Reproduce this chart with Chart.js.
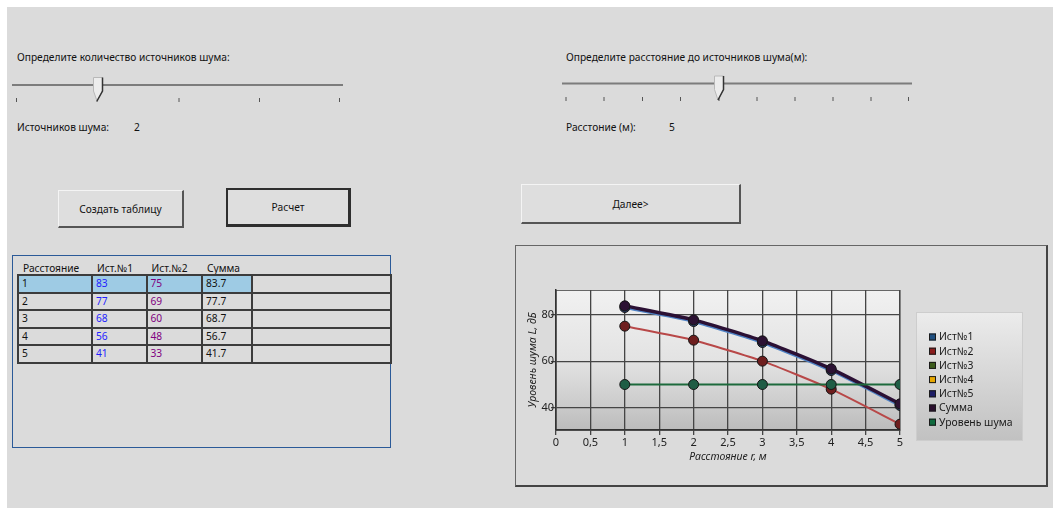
<!DOCTYPE html>
<html>
<head>
<meta charset="utf-8">
<script src="https://cdn.jsdelivr.net/npm/chart.js"></script>
<style>
  html, body { margin: 0; padding: 0; background: #fff; }
  body { width: 1053px; height: 508px; position: relative; overflow: hidden; font-family: "Noto Sans", sans-serif; font-size: 10.2px; color: #111; }
  #form { position: absolute; left: 7px; top: 7px; width: 1046px; height: 501px; background: #dbdbdb; }
  .abs { position: absolute; white-space: nowrap; }
  .lbl { line-height: 14px; }
  .btn { position: absolute; box-sizing: border-box; background: #dedede; display: flex; align-items: center; justify-content: center; }
  .raised { border-top: 1px solid #f4f4f4; border-left: 1px solid #f4f4f4; border-right: 2px solid #555; border-bottom: 2px solid #555; }
  .focused { border: 2px solid #2e2e2e; border-right-width: 3px; border-bottom-width: 3px; }
  #grid { position: absolute; left: 12px; top: 255px; width: 377px; height: 191px; border: 1px solid #2b5a98; }
  .cell { position: absolute; box-sizing: border-box; border: 2px solid #3c3c3c; padding-left: 3px; line-height: 14px; }
  #panel { position: absolute; left: 515px; top: 245px; width: 530px; height: 239px; border: 1px solid #666; border-right: 2px solid #444; border-bottom: 2px solid #444; background: #dbdbdb; }
  #chart { position: absolute; left: 516px; top: 246px; }
</style>
</head>
<body>
<div id="form"></div>

<div class="abs lbl" style="left:17px; top:50px;">Определите количество источников шума:</div>
<div class="abs lbl" style="left:566px; top:50px;">Определите расстояние до источников шума(м):</div>

<svg class="abs" style="left:0; top:0;" width="1053" height="120" id="sliders"></svg>

<div class="abs lbl" style="left:17px; top:120px;">Источников шума:</div>
<div class="abs lbl" style="left:134px; top:120px;" id="srcCount"></div>
<div class="abs lbl" style="left:566px; top:120px;">Расстоние (м):</div>
<div class="abs lbl" style="left:669px; top:120px;" id="distValue"></div>

<div class="btn raised" style="left:58px; top:190px; width:126px; height:38px;">Создать таблицу</div>
<div class="btn focused" style="left:226px; top:188px; width:125px; height:39px;">Расчет</div>
<div class="btn raised" style="left:521px; top:184px; width:220px; height:40px;">Далее&gt;</div>

<div id="grid"></div>
<div id="panel"></div>
<canvas id="chart" width="530" height="239"></canvas>

<script>
// --- data ---
const distances = [1, 2, 3, 4, 5]
const source1 = [83, 77, 68, 56, 41]
const source2 = [75, 69, 60, 48, 33]
const source3 = []
const source4 = []
const source5 = []
const totalLevel = [83.7, 77.7, 68.7, 56.7, 41.7]
const noiseLimit = [50, 50, 50, 50, 50]
const seriesNames = ['Ист№1', 'Ист№2', 'Ист№3', 'Ист№4', 'Ист№5', 'Сумма', 'Уровень шума']
const xTicks = [0, 0.5, 1, 1.5, 2, 2.5, 3, 3.5, 4, 4.5, 5]
const yTicks = [40, 60, 80]
const tableHeaders = ['Расстояние', 'Ист.№1', 'Ист.№2', 'Сумма']
const sourceCount = 2
const selectedDistance = 5

document.getElementById('srcCount').textContent = sourceCount
document.getElementById('distValue').textContent = selectedDistance

// --- track bars ---
function trackBar(svg, x1, x2, y, ticks, thumbX, thumbTop, tipY) {
	let s = '<line x1="' + x1 + '" y1="' + y + '" x2="' + x2 + '" y2="' + y + '" stroke="#7c7c7c" stroke-width="2"/>'
	ticks.forEach(t => {
		s += '<line x1="' + t + '" y1="' + (tipY - 2) + '" x2="' + t + '" y2="' + (tipY + 2) + '" stroke="#555" stroke-width="1"/>'
	})
	const l = thumbX - 4.5, r = thumbX + 4.5, b = thumbTop + 13.5
	s += '<path d="M' + l + ',' + thumbTop + ' L' + r + ',' + thumbTop + ' L' + r + ',' + b + ' L' + (thumbX - 1) + ',' + (tipY + 1) + ' L' + l + ',' + b + ' Z" fill="#ececec" stroke="#b8b8b8" stroke-width="1"/>'
	s += '<path d="M' + r + ',' + thumbTop + ' L' + r + ',' + b + ' L' + (thumbX - 1) + ',' + (tipY + 1) + '" fill="none" stroke="#333" stroke-width="1.5"/>'
	svg.innerHTML += s
}
const sliders = document.getElementById('sliders')
trackBar(sliders, 12, 343, 85, [16.5, 97, 179, 259.5, 339.5], 98, 77.5, 100)
trackBar(sliders, 562, 912, 83.5, [566, 604, 642.5, 680.5, 719, 757, 795, 833, 871, 908.5], 719, 76, 99)

// --- results grid ---
const grid = document.getElementById('grid')
const colEdges = [5, 79, 133.5, 189, 238.5, 378]
const rowTop = 18, rowH = 17.5
tableHeaders.forEach((h, c) => {
	const d = document.createElement('div')
	d.className = 'abs lbl'
	d.style.left = (colEdges[c] + 5) + 'px'
	d.style.top = '5px'
	d.textContent = h
	grid.appendChild(d)
})
const colColors = ['#111', '#1e1eff', '#800080', '#111', '#111']
distances.forEach((dist, r) => {
	const vals = [dist, source1[r], source2[r], totalLevel[r], '']
	vals.forEach((v, c) => {
		const d = document.createElement('div')
		d.className = 'cell'
		d.style.left = (colEdges[c] - 1) + 'px'
		d.style.top = (rowTop + r * rowH) + 'px'
		d.style.width = (colEdges[c + 1] - colEdges[c] + 2) + 'px'
		d.style.height = (rowH + 2) + 'px'
		d.style.color = colColors[c]
		if (r === 0 && c < 4) d.style.background = '#9ecbe4'
		d.textContent = v
		grid.appendChild(d)
	})
})

// --- chart ---
const pts = arr => arr.map((v, i) => ({ x: distances[i], y: v }))

const plotBackground = {
	id: 'plotBackground',
	beforeDraw(chart) {
		const { ctx, chartArea: a } = chart
		const g = ctx.createLinearGradient(0, a.top, 0, a.bottom)
		g.addColorStop(0, '#f1f1f1')
		g.addColorStop(0.5, '#e3e3e3')
		g.addColorStop(0.8, '#cdcdcd')
		g.addColorStop(1, '#bbbbbb')
		ctx.save()
		ctx.fillStyle = g
		ctx.fillRect(a.left, a.top, a.right - a.left, a.bottom - a.top)
		ctx.strokeStyle = '#666'
		ctx.lineWidth = 1
		ctx.strokeRect(a.left, a.top + 0.5, a.right - a.left, a.bottom - a.top)
		ctx.restore()
	}
}

const legendBox = {
	id: 'legendBox',
	afterDraw(chart) {
		const ctx = chart.ctx
		const x = 400, y = 66, w = 107, h = 129
		const g = ctx.createLinearGradient(0, y, 0, y + h)
		g.addColorStop(0, '#ececec')
		g.addColorStop(1, '#c1c1c1')
		ctx.save()
		ctx.fillStyle = g
		ctx.fillRect(x, y, w, h)
		ctx.strokeStyle = '#cdcdcd'
		ctx.strokeRect(x + 0.5, y + 0.5, w - 1, h - 1)
		ctx.font = '10.4px "Noto Sans"'
		ctx.textBaseline = 'middle'
		chart.data.datasets.forEach((ds, i) => {
			const cy = 91 + i * 14.2
			ctx.fillStyle = ds.legendColor
			ctx.fillRect(413, cy - 3.5, 7, 7)
			ctx.strokeStyle = '#1a1a1a'
			ctx.strokeRect(413.5, cy - 3, 6, 6)
			ctx.fillStyle = '#1a1a1a'
			ctx.fillText(ds.label, 423, cy + 0.5)
		})
		ctx.restore()
	}
}

function series(i, data, line, marker, legendColor, width, order) {
	return {
		label: seriesNames[i],
		data: pts(data),
		borderColor: line,
		borderWidth: width,
		pointRadius: 5,
		pointBackgroundColor: marker,
		pointBorderColor: '#151515',
		pointBorderWidth: 1,
		tension: 0.18,
		legendColor: legendColor,
		order: order
	}
}

new Chart(document.getElementById('chart'), {
	type: 'line',
	data: {
		datasets: [
			series(0, source1, '#4f82c4', '#2a3f6a', '#1f4f80', 3, 4),
			series(1, source2, '#b84848', '#6e1e1e', '#8a1c1c', 2, 3),
			series(2, source3, '#3b5e1e', '#3b5e1e', '#3d5c1c', 2, 5),
			series(3, source4, '#e6a400', '#e6a400', '#e8a800', 2, 5),
			series(4, source5, '#1c1c64', '#1c1c64', '#1c1c66', 2, 5),
			series(5, totalLevel, '#2b1034', '#2c1233', '#2a0e2e', 3.5, 1),
			series(6, noiseLimit, '#1d6a3c', '#1f5d45', '#0f6a3e', 2, 0)
		]
	},
	options: {
		responsive: false,
		animation: false,
		layout: { padding: { top: 44, right: 146, left: 0, bottom: 0 } },
		plugins: {
			legend: { display: false },
			tooltip: { enabled: false }
		},
		scales: {
			x: {
				type: 'linear',
				min: 0,
				max: 5,
				afterBuildTicks: scale => { scale.ticks = xTicks.map(v => ({ value: v })) },
				afterFit: scale => { scale.height = 55 },
				grid: { color: '#454545', lineWidth: 1.3, tickLength: 5, tickColor: '#454545' },
				border: { color: '#333', width: 1.5 },
				ticks: {
					color: '#222',
					padding: 1,
					maxRotation: 0,
					font: { family: 'Noto Sans', size: 11 },
					callback: v => String(v).replace('.', ',')
				},
				title: {
					display: true,
					text: 'Расстояние r, м',
					color: '#222',
					padding: { top: 0, bottom: 22 },
					font: { family: 'Noto Sans', size: 10.5, style: 'italic' }
				}
			},
			y: {
				min: 30.5,
				max: 90.5,
				afterBuildTicks: scale => { scale.ticks = yTicks.map(v => ({ value: v })) },
				afterFit: scale => { scale.width = 40 },
				grid: { color: '#454545', lineWidth: 1.3, tickLength: 5, tickColor: '#454545' },
				border: { color: '#333', width: 1.5 },
				ticks: {
					color: '#222',
					padding: -3,
					font: { family: 'Noto Sans', size: 11 }
				},
				title: {
					display: true,
					text: 'Уровень шума L, дБ',
					color: '#222',
					padding: { top: 11, bottom: 0 },
					font: { family: 'Noto Sans', size: 10.5, style: 'italic' }
				}
			}
		}
	},
	plugins: [plotBackground, legendBox]
})
</script>
</body>
</html>
